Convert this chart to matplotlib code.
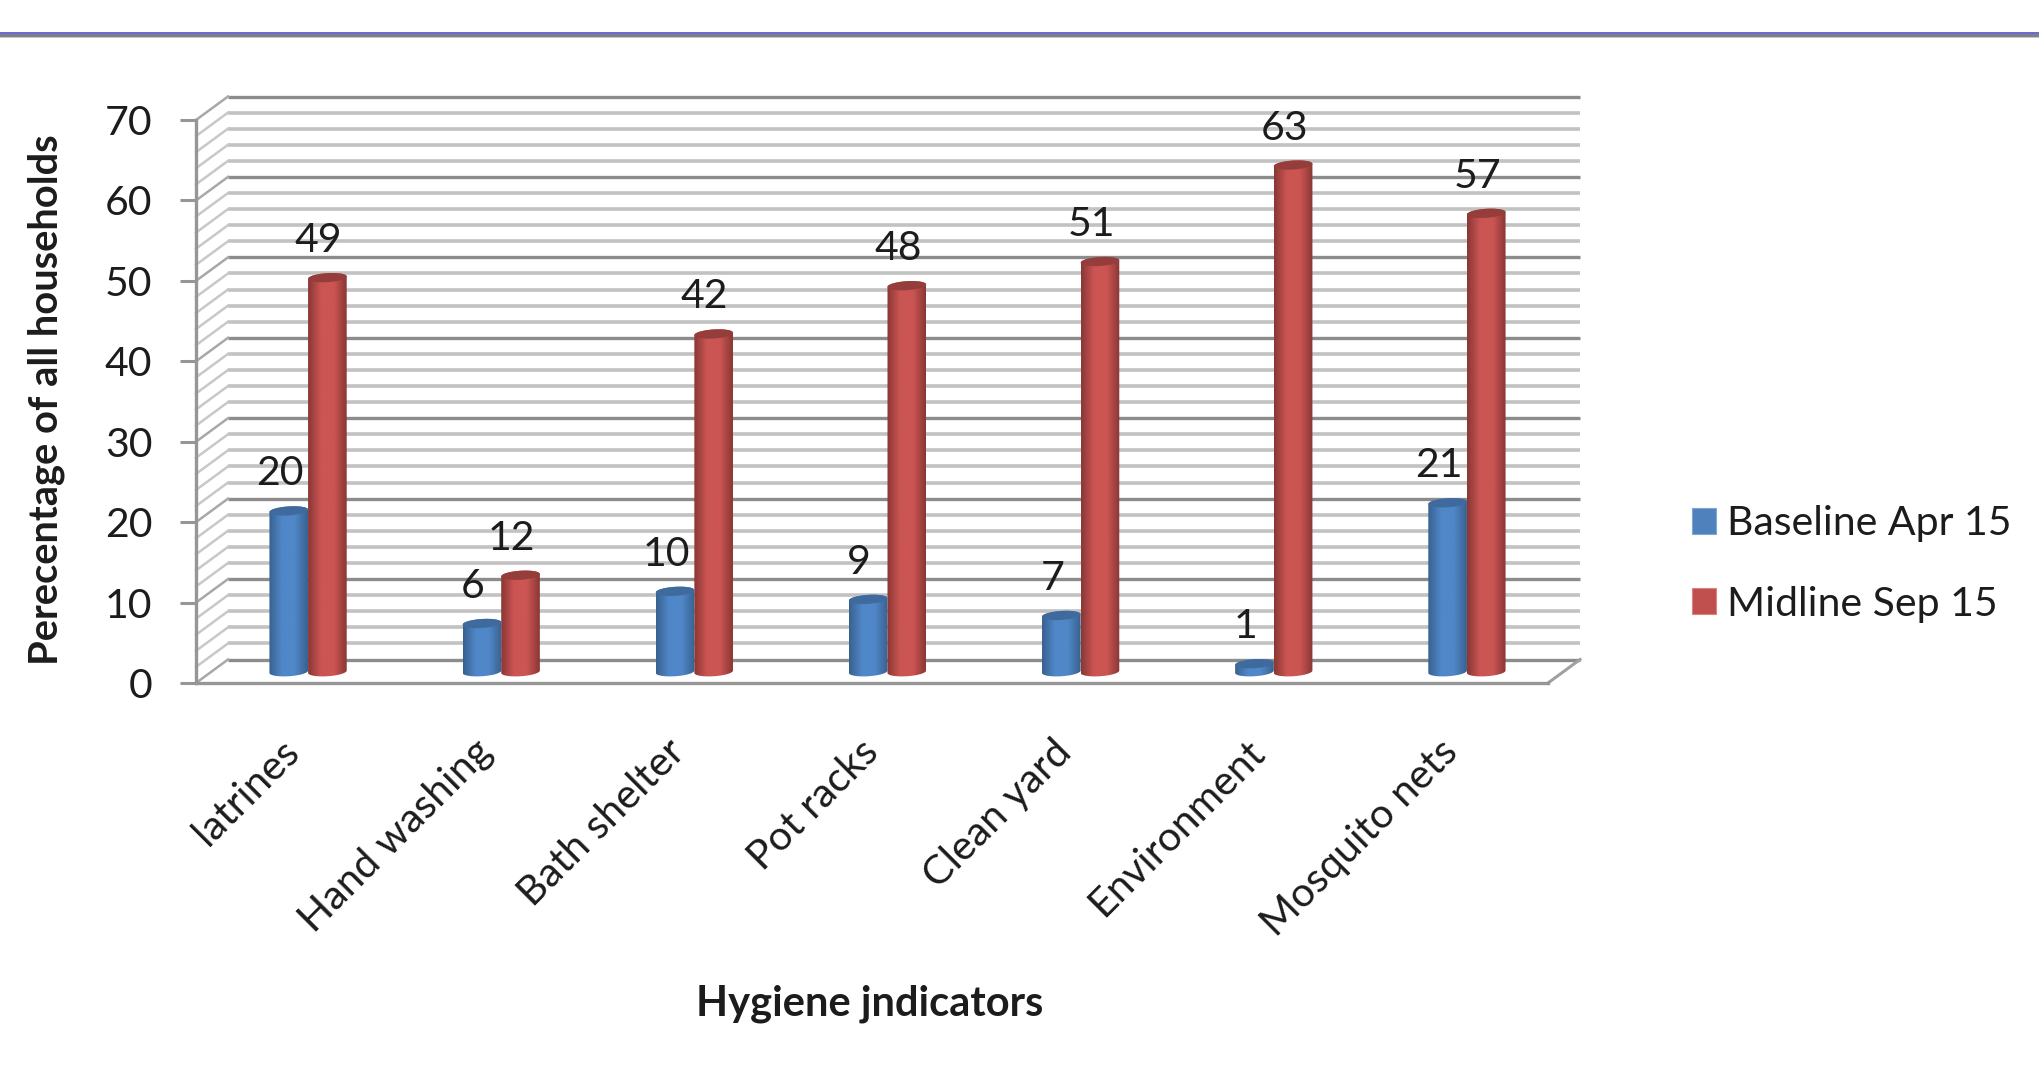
import numpy as np
import matplotlib
matplotlib.use("Agg")
import matplotlib.pyplot as plt
from matplotlib.colors import LinearSegmentedColormap
from matplotlib.patches import Polygon, Rectangle
from matplotlib.transforms import ScaledTranslation

categories = ["latrines", "Hand washing", "Bath shelter", "Pot racks",
              "Clean yard", "Environment", "Mosquito nets"]
baseline = [20, 6, 10, 9, 7, 1, 21]
midline = [49, 12, 42, 48, 51, 63, 57]
series_names = ["Baseline Apr 15", "Midline Sep 15"]
y_ticks = [0, 10, 20, 30, 40, 50, 60, 70]
x_title = "Hygiene jndicators"
y_title = "Perecentage of all households"

W, H = 2040, 1066
plt.rcParams["font.family"] = ["Lato", "DejaVu Sans"]
TXT = "#1c1c1c"
FS = 29.5

fig = plt.figure(figsize=(W / 100, H / 100), dpi=100, facecolor="white")
L, R, B, T = 196, 1548, 683, 120
ax = fig.add_axes([L / W, 1 - B / H, (R - L) / W, (B - T) / H])
ax.set_xlim(-0.5, 6.5)
ax.set_ylim(0, 70)
ax.patch.set_alpha(0)

PX = (R - L) / 7
PY = (B - T) / 70
DX = 32 / PX
DY = 23.5 / PY

# Walls and floor of the 3-D box
for v in range(0, 71, 2):
    major = v % 10 == 0
    col = "#8c8c8c" if major else "#c2c2c2"
    lw = 2.4 if major else 2.6
    ax.plot([-0.5 + DX, 6.5 + DX], [v + DY, v + DY], color=col, lw=lw,
            clip_on=False, zorder=1, solid_capstyle="butt")
    ax.plot([-0.5, -0.5 + DX], [v, v + DY], color="#a8a8a8" if major else "#c8c8c8",
            lw=1.8, clip_on=False, zorder=1)
ax.plot([6.5, 6.5 + DX], [0, DY], color="#a0a0a0", lw=2.2, clip_on=False, zorder=1)


def ellipse_xy(cx, cy, a, b, tilt, t):
    return cx + a * np.cos(t), cy + b * np.sin(t) + tilt * np.cos(t)


def cylinders(xs, vals, edge, mid, cap, label):
    w = 0.2
    base = DY / 2 - 0.5 / PY
    bars = ax.bar(xs, vals, w, bottom=base, color=mid, label=label, zorder=3, linewidth=0)
    cmap = LinearSegmentedColormap.from_list("c", [edge, mid, mid, edge], N=128)
    grad = np.linspace(0, 1, 128)[None, :]
    a = w / 2
    bh = 4.5 / PY
    tilt = 1.2 / PY
    z = 3.2
    for bar, cx, v in zip(bars, xs, vals):
        bar.set_facecolor("none")
        top = base + v
        t_low = np.linspace(np.pi, 2 * np.pi, 40)
        t_up = np.linspace(0, np.pi, 40)
        xl, yl = ellipse_xy(cx, base, a, bh, tilt, t_low)
        xu, yu = ellipse_xy(cx, top, a, bh, tilt, t_up)
        pts = np.column_stack([np.r_[xl, xu], np.r_[yl, yu]])
        clip = Polygon(pts, closed=True, transform=ax.transData, facecolor="none", edgecolor="none")
        ax.add_patch(clip)
        im = ax.imshow(grad, extent=[cx - a, cx + a, base - 2 * bh, top + 2 * bh], aspect="auto",
                       cmap=cmap, zorder=z, interpolation="bilinear")
        im.set_clip_path(clip)
        t = np.linspace(0, 2 * np.pi, 80)
        cxs, cys = ellipse_xy(cx, top, a, bh, tilt, t)
        ax.add_patch(Polygon(np.column_stack([cxs, cys]), closed=True, facecolor=cap,
                             edgecolor="none", zorder=z + 0.1, clip_on=False))
        ax.annotate(str(v), (cx, top), xytext=(-9, 37), textcoords="offset pixels",
                    ha="center", va="center", fontsize=FS, color=TXT, zorder=6)
    return bars


x = np.arange(len(categories))
shift = DX / 2 - 0.5 / PX
blue = cylinders(x + shift - 0.1, baseline, "#38618f", "#5087c8", "#3f6a9e", series_names[0])
red = cylinders(x + shift + 0.1, midline, "#8a3735", "#cb5552", "#953d3a", series_names[1])
ax.set_xlim(-0.5, 6.5)
ax.set_ylim(0, 70)

# Axes
for s in ["top", "right"]:
    ax.spines[s].set_visible(False)
for s in ["left", "bottom"]:
    ax.spines[s].set_color("#969696")
    ax.spines[s].set_linewidth(2.4)
    ax.spines[s].set_zorder(2)
ax.set_yticks(y_ticks)
ax.tick_params(axis="y", length=11.5, width=2.2, color="#969696", pad=20, labelsize=FS,
               labelcolor=TXT)
ax.set_xticks(x, categories, rotation=45, ha="right", rotation_mode="anchor")
ax.tick_params(axis="x", length=0, pad=36, labelsize=FS, labelcolor=TXT)
nudge = ScaledTranslation(-13 / 100, 0, fig.dpi_scale_trans)
for lab in ax.get_xticklabels():
    lab.set_transform(lab.get_transform() + nudge)

fig.text(870 / W, 1 - 1004 / H, x_title, ha="center", va="center", fontsize=30,
         fontweight="bold", color=TXT)
fig.text(46 / W, 1 - 400 / H, y_title, ha="center", va="center", rotation=90,
         fontsize=28.7, fontweight="bold", color=TXT)

handles = [Rectangle((0, 0), 1, 1, facecolor="#4F81BD", edgecolor="#7FA6D6", lw=0.8),
           Rectangle((0, 0), 1, 1, facecolor="#C0504D", edgecolor="#D88583", lw=0.8)]
fig.legend(handles, series_names, loc="center left",
           bbox_to_anchor=(1692 / W, 1 - 564 / H), frameon=False, fontsize=FS,
           handlelength=0.58, handleheight=0.58, handletextpad=0.28, labelspacing=1.05,
           labelcolor=TXT, borderaxespad=0, borderpad=0)

# Rule across the top of the slide
for y0, y1, c in [(31.5, 34.5, "#6c6cd0"), (34.5, 36.5, "#7f7f8c"), (36.5, 38, "#c8c8c8")]:
    fig.add_artist(Rectangle((0, 1 - y1 / H), 1, (y1 - y0) / H, transform=fig.transFigure,
                             facecolor=c, edgecolor="none"))

fig.savefig("out.png", dpi=100, facecolor="white")
